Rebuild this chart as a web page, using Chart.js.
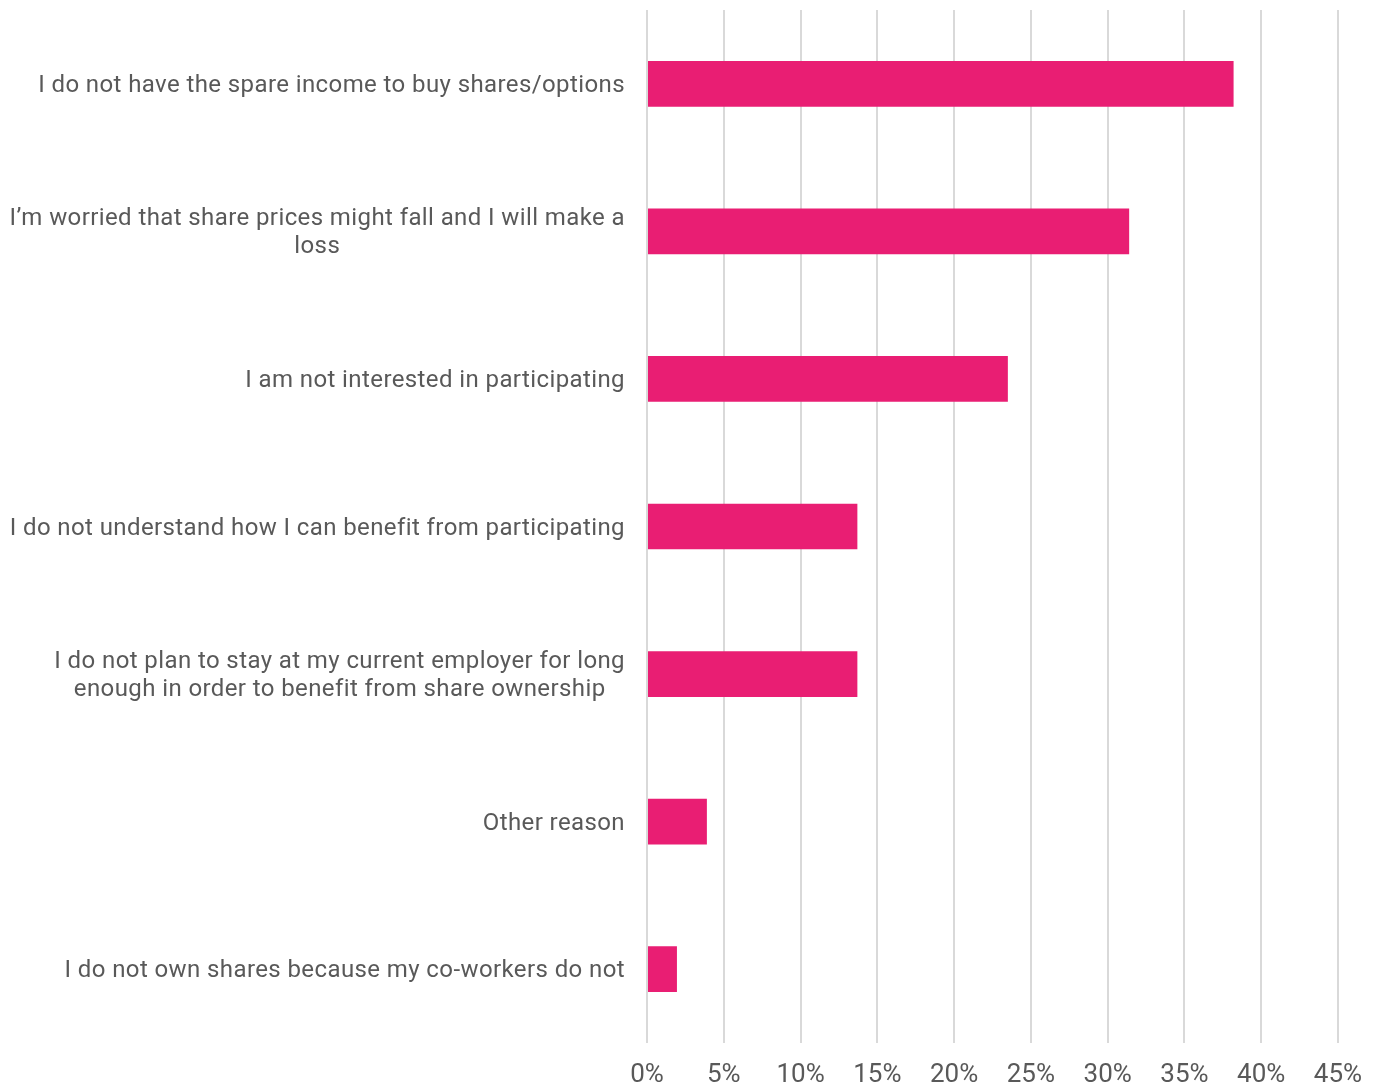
<!DOCTYPE html>
<html>
<head>
<meta charset="utf-8">
<title>Reasons for not participating</title>
<script src="https://cdn.jsdelivr.net/npm/chart.js"></script>
<style>
  html, body { margin: 0; padding: 0; background: #fff; }
  #wrap { width: 1381px; height: 1084px; }
</style>
</head>
<body>
<div id="wrap"><canvas id="chart"></canvas></div>
<script>
// survey answers, each entry is one label (array = wrapped lines)
const reasons = [
  ["I do not have the spare income to buy shares/options"],
  ["I\u2019m worried that share prices might fall and I will make a", "loss"],
  ["I am not interested in participating"],
  ["I do not understand how I can benefit from participating"],
  ["I do not plan to stay at my current employer for long", "enough in order to benefit from share ownership"],
  ["Other reason"],
  ["I do not own shares because my co-workers do not"]
];
const shares = [38.2, 31.4, 23.5, 13.7, 13.7, 3.9, 1.95];
const xTicks = [0, 5, 10, 15, 20, 25, 30, 35, 40, 45];

const FONT = "Roboto";
const TEXT = "#595959";
const PINK = "#E91E73";
const GRID = "#d9d9d9";

// y labels: each label's lines are centred on each other, the block is right-aligned at the axis
const centredLabels = {
  id: "centredLabels",
  afterDraw(chart) {
    const y = chart.scales.y;
    const ctx = chart.ctx;
    const right = y.right - 22;
    const lh = 28;
    ctx.save();
    ctx.font = "24px " + FONT;
    ctx.letterSpacing = "0.4px";
    ctx.fillStyle = TEXT;
    ctx.textAlign = "center";
    ctx.textBaseline = "middle";
    reasons.forEach((lines, i) => {
      const w = Math.max(...lines.map(l => ctx.measureText(l).width));
      const cx = right - w / 2;
      const cy = y.getPixelForValue(i) + 2;
      const top = cy - (lines.length - 1) * lh / 2;
      lines.forEach((l, k) => ctx.fillText(l, cx, top + k * lh));
    });
    ctx.restore();
  }
};

new Chart(document.getElementById("chart"), {
  type: "bar",
  data: {
    labels: reasons,
    datasets: [{
      data: shares,
      backgroundColor: PINK,
      borderWidth: 0,
      categoryPercentage: 1,
      barPercentage: 0.31
    }]
  },
  options: {
    indexAxis: "y",
    responsive: true,
    maintainAspectRatio: false,
    animation: false,
    layout: { padding: { top: 10, right: 43, bottom: 0, left: 0 } },
    plugins: { legend: { display: false }, tooltip: { enabled: false } },
    scales: {
      x: {
        min: 0,
        max: 45,
        afterBuildTicks: s => { s.ticks = xTicks.map(v => ({ value: v })); },
        afterFit: s => { s.height = 41; },
        grid: { color: GRID, lineWidth: 2, drawTicks: false },
        border: { display: false },
        ticks: {
          padding: 17,
          color: TEXT,
          font: { family: FONT, size: 26 },
          callback: v => v + "%"
        }
      },
      y: {
        grid: { display: false },
        border: { display: false },
        ticks: { display: false },
        afterFit: s => { s.width = 647; }
      }
    }
  },
  plugins: [centredLabels]
});
</script>
</body>
</html>
